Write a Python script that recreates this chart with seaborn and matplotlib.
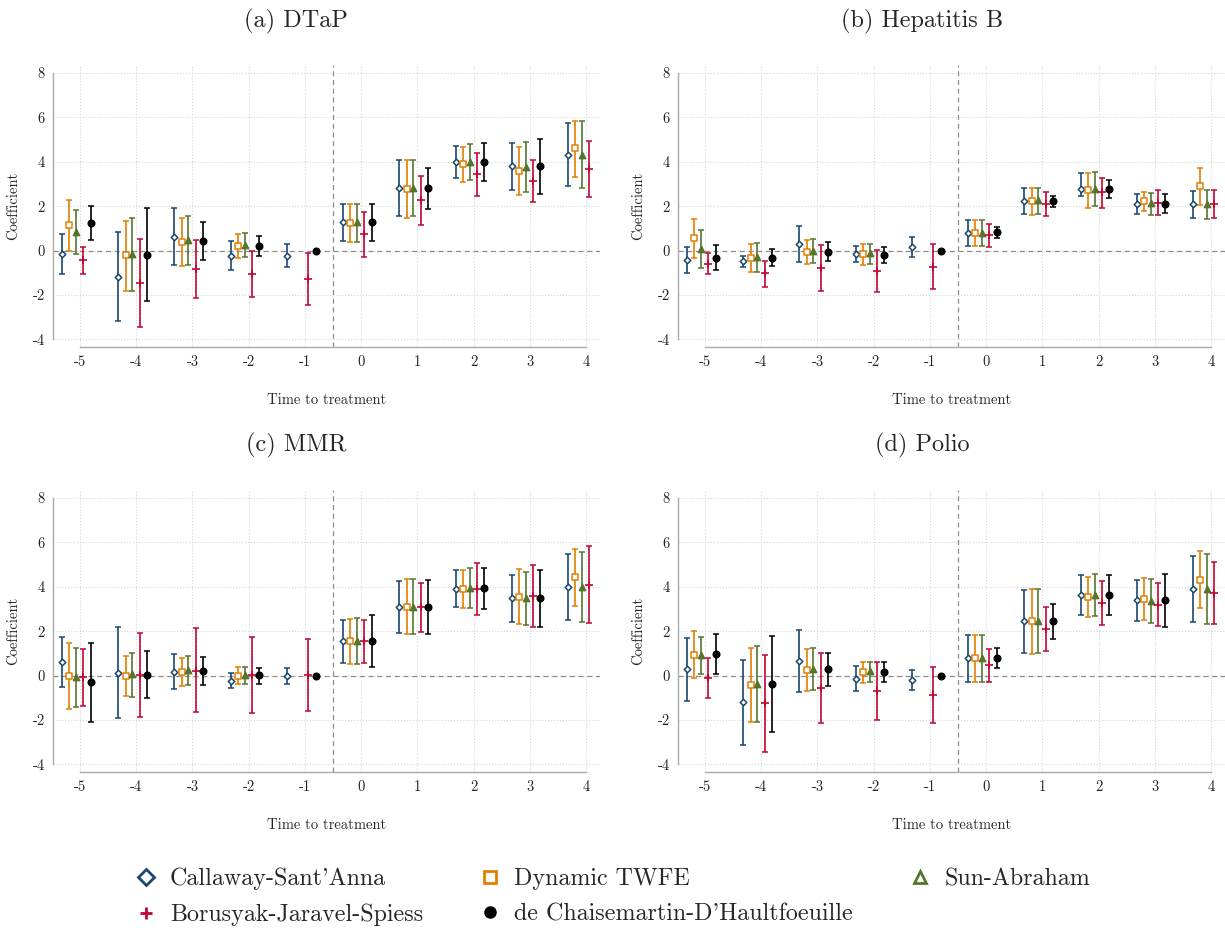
import numpy as np
import pandas as pd
import seaborn as sns
import matplotlib.pyplot as plt
from matplotlib.lines import Line2D

# event time and estimates, each entry is (coef, lower, upper); None = not estimated
periods = [-5, -4, -3, -2, -1, 0, 1, 2, 3, 4]

dtap_cs = [(-0.17, -1.07, 0.75), (-1.17, -3.19, 0.84), (0.63, -0.66, 1.94), (-0.23, -0.86, 0.44), (-0.23, -0.75, 0.32),
           (1.28, 0.44, 2.12), (2.80, 1.55, 4.06), (3.98, 3.25, 4.72), (3.79, 2.75, 4.84), (4.32, 2.89, 5.73)]
dtap_twfe = [(1.16, 0.00, 2.29), (-0.21, -1.80, 1.35), (0.39, -0.69, 1.49), (0.21, -0.35, 0.77), None,
             (1.25, 0.38, 2.12), (2.77, 1.47, 4.08), (3.88, 3.08, 4.68), (3.58, 2.50, 4.65), (4.60, 3.32, 5.86)]
dtap_sa = [(0.86, -0.15, 1.83), (-0.15, -1.80, 1.47), (0.47, -0.63, 1.55), (0.26, -0.30, 0.78), None,
           (1.28, 0.41, 2.12), (2.83, 1.55, 4.08), (3.98, 3.16, 4.78), (3.76, 2.63, 4.89), (4.32, 2.80, 5.82)]
dtap_bjs = [(-0.44, -1.04, 0.15), (-1.44, -3.44, 0.54), (-0.83, -2.12, 0.47), (-1.05, -2.10, 0.00), (-1.28, -2.47, -0.09),
            (0.75, -0.27, 1.76), (2.26, 1.16, 3.37), (3.43, 2.48, 4.38), (3.13, 2.18, 4.08), (3.67, 2.41, 4.92)]
dtap_dcdh = [(1.23, 0.47, 2.01), (-0.18, -2.27, 1.91), (0.44, -0.44, 1.31), (0.23, -0.23, 0.68), (0.0, 0.0, 0.0),
             (1.28, 0.44, 2.12), (2.80, 1.88, 3.71), (3.98, 3.13, 4.83), (3.79, 2.57, 5.01), None]

hepb_cs = [(-0.42, -1.01, 0.15), (-0.48, -0.75, -0.23), (0.29, -0.53, 1.10), (-0.14, -0.50, 0.21), (0.18, -0.27, 0.63),
           (0.81, 0.23, 1.40), (2.24, 1.65, 2.81), (2.77, 2.44, 3.49), (2.11, 1.67, 2.57), (2.09, 1.49, 2.68)]
hepb_twfe = [(0.56, -0.32, 1.41), (-0.32, -0.98, 0.29), (-0.06, -0.59, 0.48), (-0.17, -0.63, 0.29), None,
             (0.78, 0.21, 1.40), (2.23, 1.61, 2.83), (2.72, 1.94, 3.49), (2.23, 1.77, 2.66), (2.90, 2.05, 3.74)]
hepb_sa = [(0.09, -0.80, 0.95), (-0.29, -0.95, 0.33), (0.00, -0.56, 0.53), (-0.12, -0.59, 0.32), None,
           (0.81, 0.20, 1.40), (2.26, 1.64, 2.84), (2.78, 2.00, 3.52), (2.14, 1.61, 2.59), (2.08, 1.41, 2.71)]
hepb_bjs = [(-0.60, -1.07, -0.12), (-1.02, -1.64, -0.45), (-0.77, -1.80, 0.27), (-0.90, -1.88, 0.05), (-0.72, -1.74, 0.29),
            (0.69, 0.17, 1.19), (2.09, 1.55, 2.65), (2.62, 1.94, 3.28), (2.15, 1.59, 2.71), (2.12, 1.47, 2.75)]
hepb_dcdh = [(-0.32, -0.89, 0.26), (-0.32, -0.68, 0.08), (-0.05, -0.45, 0.38), (-0.18, -0.56, 0.18), (0.0, 0.0, 0.0),
             (0.83, 0.56, 1.08), (2.24, 1.97, 2.48), (2.77, 2.35, 3.17), (2.12, 1.70, 2.54), None]

mmr_cs = [(0.60, -0.51, 1.75), (0.14, -1.93, 2.20), (0.18, -0.60, 0.97), (-0.23, -0.56, 0.14), (-0.02, -0.38, 0.36),
          (1.54, 0.57, 2.50), (3.09, 1.92, 4.27), (3.92, 3.09, 4.77), (3.48, 2.40, 4.55), (4.00, 2.50, 5.49)]
mmr_twfe = [(0.00, -1.51, 1.48), (0.00, -0.90, 0.90), (0.15, -0.47, 0.80), (0.00, -0.39, 0.38), None,
            (1.54, 0.51, 2.56), (3.11, 1.86, 4.34), (3.88, 3.03, 4.75), (3.56, 2.31, 4.78), (4.42, 3.12, 5.70)]
mmr_sa = [(-0.08, -1.40, 1.25), (0.06, -0.94, 1.01), (0.24, -0.41, 0.87), (0.03, -0.38, 0.39), None,
          (1.57, 0.51, 2.60), (3.09, 1.86, 4.34), (3.94, 3.03, 4.84), (3.48, 2.29, 4.65), (4.00, 2.40, 5.58)]
mmr_bjs = [(-0.08, -1.39, 1.21), (0.05, -1.86, 1.93), (0.23, -1.66, 2.13), (0.03, -1.69, 1.75), (0.02, -1.58, 1.63),
           (1.54, 0.56, 2.50), (3.09, 1.96, 4.18), (3.91, 2.75, 5.07), (3.60, 2.19, 4.99), (4.10, 2.35, 5.85)]
mmr_dcdh = [(-0.29, -2.07, 1.49), (0.05, -1.01, 1.09), (0.21, -0.42, 0.84), (0.02, -0.36, 0.36), (0.0, 0.0, 0.0),
            (1.54, 0.38, 2.71), (3.09, 1.89, 4.30), (3.94, 3.00, 4.86), (3.48, 2.20, 4.77), None]

polio_cs = [(0.29, -1.12, 1.69), (-1.19, -3.12, 0.72), (0.66, -0.72, 2.05), (-0.14, -0.69, 0.42), (-0.18, -0.63, 0.27),
            (0.78, -0.27, 1.84), (2.44, 1.03, 3.86), (3.62, 2.73, 4.51), (3.39, 2.47, 4.31), (3.92, 2.43, 5.40)]
polio_twfe = [(0.94, -0.11, 1.99), (-0.42, -2.10, 1.25), (0.26, -0.71, 1.18), (0.15, -0.32, 0.62), None,
              (0.78, -0.29, 1.84), (2.44, 0.98, 3.91), (3.56, 2.65, 4.45), (3.45, 2.49, 4.40), (4.31, 3.05, 5.60)]
polio_sa = [(0.94, 0.09, 1.73), (-0.38, -2.08, 1.33), (0.30, -0.65, 1.24), (0.20, -0.29, 0.63), None,
            (0.78, -0.29, 1.84), (2.44, 1.00, 3.88), (3.65, 2.67, 4.56), (3.36, 2.38, 4.34), (3.92, 2.32, 5.49)]
polio_bjs = [(-0.12, -1.01, 0.78), (-1.25, -3.45, 0.95), (-0.56, -2.14, 1.01), (-0.71, -2.01, 0.63), (-0.86, -2.13, 0.41),
             (0.47, -0.30, 1.19), (2.11, 1.09, 3.11), (3.27, 2.29, 4.27), (3.18, 2.22, 4.15), (3.73, 2.34, 5.13)]
polio_dcdh = [(0.97, 0.09, 1.86), (-0.38, -2.53, 1.78), (0.29, -0.45, 1.03), (0.17, -0.29, 0.60), (0.0, 0.0, 0.0),
              (0.80, 0.35, 1.25), (2.44, 1.64, 3.23), (3.62, 2.73, 4.51), (3.39, 2.20, 4.57), None]

estimators = ["Callaway-Sant'Anna", "Dynamic TWFE", "Sun-Abraham",
              "Borusyak-Jaravel-Spiess", "de Chaisemartin-D'Haultfoeuille"]
panel_titles = ["(a) DTaP", "(b) Hepatitis B", "(c) MMR", "(d) Polio"]
panel_data = [
    [dtap_cs, dtap_twfe, dtap_sa, dtap_bjs, dtap_dcdh],
    [hepb_cs, hepb_twfe, hepb_sa, hepb_bjs, hepb_dcdh],
    [mmr_cs, mmr_twfe, mmr_sa, mmr_bjs, mmr_dcdh],
    [polio_cs, polio_twfe, polio_sa, polio_bjs, polio_dcdh],
]

# styling
colors = ["#1a476f", "#e37e00", "#55752f", "#c10534", "#000000"]
offsets = [-0.32, -0.19, -0.07, 0.06, 0.19]
markers = ["D", "s", "^", "+", "o"]
sizes = [11, 15, 20, 28, 22]
faces = ["white", "white", colors[2], colors[3], "black"]


def to_frame(series):
    rows = []
    for t, est in zip(periods, series):
        if est is None:
            continue
        rows.append({"t": t, "b": est[0], "lo": est[1], "hi": est[2]})
    return pd.DataFrame(rows)


def draw_panel(ax, data):
    ax.axhline(0, color="#8c8c8c", ls=(0, (4, 3)), lw=0.9, zorder=1)
    ax.axvline(-0.5, color="#8c8c8c", ls=(0, (4, 3)), lw=0.9, zorder=1)
    for k, series in enumerate(data):
        df = to_frame(series)
        x = df["t"] + offsets[k]
        ax.errorbar(x, df["b"], yerr=[df["b"] - df["lo"], df["hi"] - df["b"]], fmt="none",
                    ecolor=colors[k], elinewidth=1.2, capsize=2.2, capthick=1.1, zorder=2)
        if markers[k] == "+":
            sns.scatterplot(x=x, y=df["b"], marker="+", s=sizes[k], color=colors[k],
                            linewidth=1.2, ax=ax, zorder=3, legend=False)
        else:
            sns.scatterplot(x=x, y=df["b"], marker=markers[k], s=sizes[k], facecolor=faces[k],
                            edgecolor=colors[k], linewidth=1.1, ax=ax, zorder=3, legend=False)

    ax.set_xlim(-5.48, 4.25)
    ax.set_ylim(-4.34, 8.36)
    ax.set_xticks(periods)
    ax.set_yticks(range(-4, 9, 2))
    ax.grid(True, ls=":", color="#d6d6d6", lw=0.8)
    ax.set_axisbelow(True)
    sns.despine(ax=ax, trim=True)
    for side in ["left", "bottom"]:
        ax.spines[side].set_color("#aaaaaa")
        ax.spines[side].set_linewidth(1.0)
    ax.tick_params(direction="out", length=3, width=0.8, color="#9a9a9a",
                   labelsize=10.5, labelcolor="#222222", pad=3)
    ax.set_xlabel("Time to treatment", fontsize=10.5)
    ax.set_ylabel("Coefficient", fontsize=10.5)
    ax.xaxis.set_label_coords(0.5, -0.165)
    ax.yaxis.set_label_coords(-0.060, 0.5)


sns.set_theme(style="white")
plt.rcParams["font.family"] = ["cmr10", "DejaVu Serif"]
plt.rcParams["axes.unicode_minus"] = False
plt.rcParams["axes.formatter.use_mathtext"] = False

W, H = 1225, 933
fig = plt.figure(figsize=(W / 100, H / 100), dpi=100)

ax_w, ax_h = 547 / W, 282 / H
lefts = [53 / W, 678 / W]
bottoms = [1 - 347 / H, 1 - 772 / H]
title_x = [296 / W, 922 / W]
title_y = [1 - 21 / H, 1 - 445 / H]

for i, data in enumerate(panel_data):
    r, c = divmod(i, 2)
    ax = fig.add_axes([lefts[c], bottoms[r], ax_w, ax_h])
    draw_panel(ax, data)
    fig.text(title_x[c], title_y[r], panel_titles[i], ha="center", va="center", fontsize=17.5)

# legend, column-major order so rows read CS / TWFE / SA then BJS / dCDH
handles = []
for k in range(5):
    if markers[k] == "+":
        h = Line2D([], [], ls="none", marker="+", color=colors[k], ms=8, mew=2)
    elif markers[k] == "o":
        h = Line2D([], [], ls="none", marker="o", color="black", ms=8)
    else:
        h = Line2D([], [], ls="none", marker=markers[k], mfc="white", mec=colors[k], ms=8, mew=2)
    handles.append(h)
order = [0, 3, 1, 4, 2]
fig.legend([handles[k] for k in order], [estimators[k] for k in order], ncol=3,
           loc="center", bbox_to_anchor=(612 / W, 1 - 897 / H), frameon=False,
           fontsize=17.3, handlelength=1.0, handletextpad=0.5, columnspacing=2.3,
           labelspacing=0.55)

fig.savefig("out.png", dpi=100)
